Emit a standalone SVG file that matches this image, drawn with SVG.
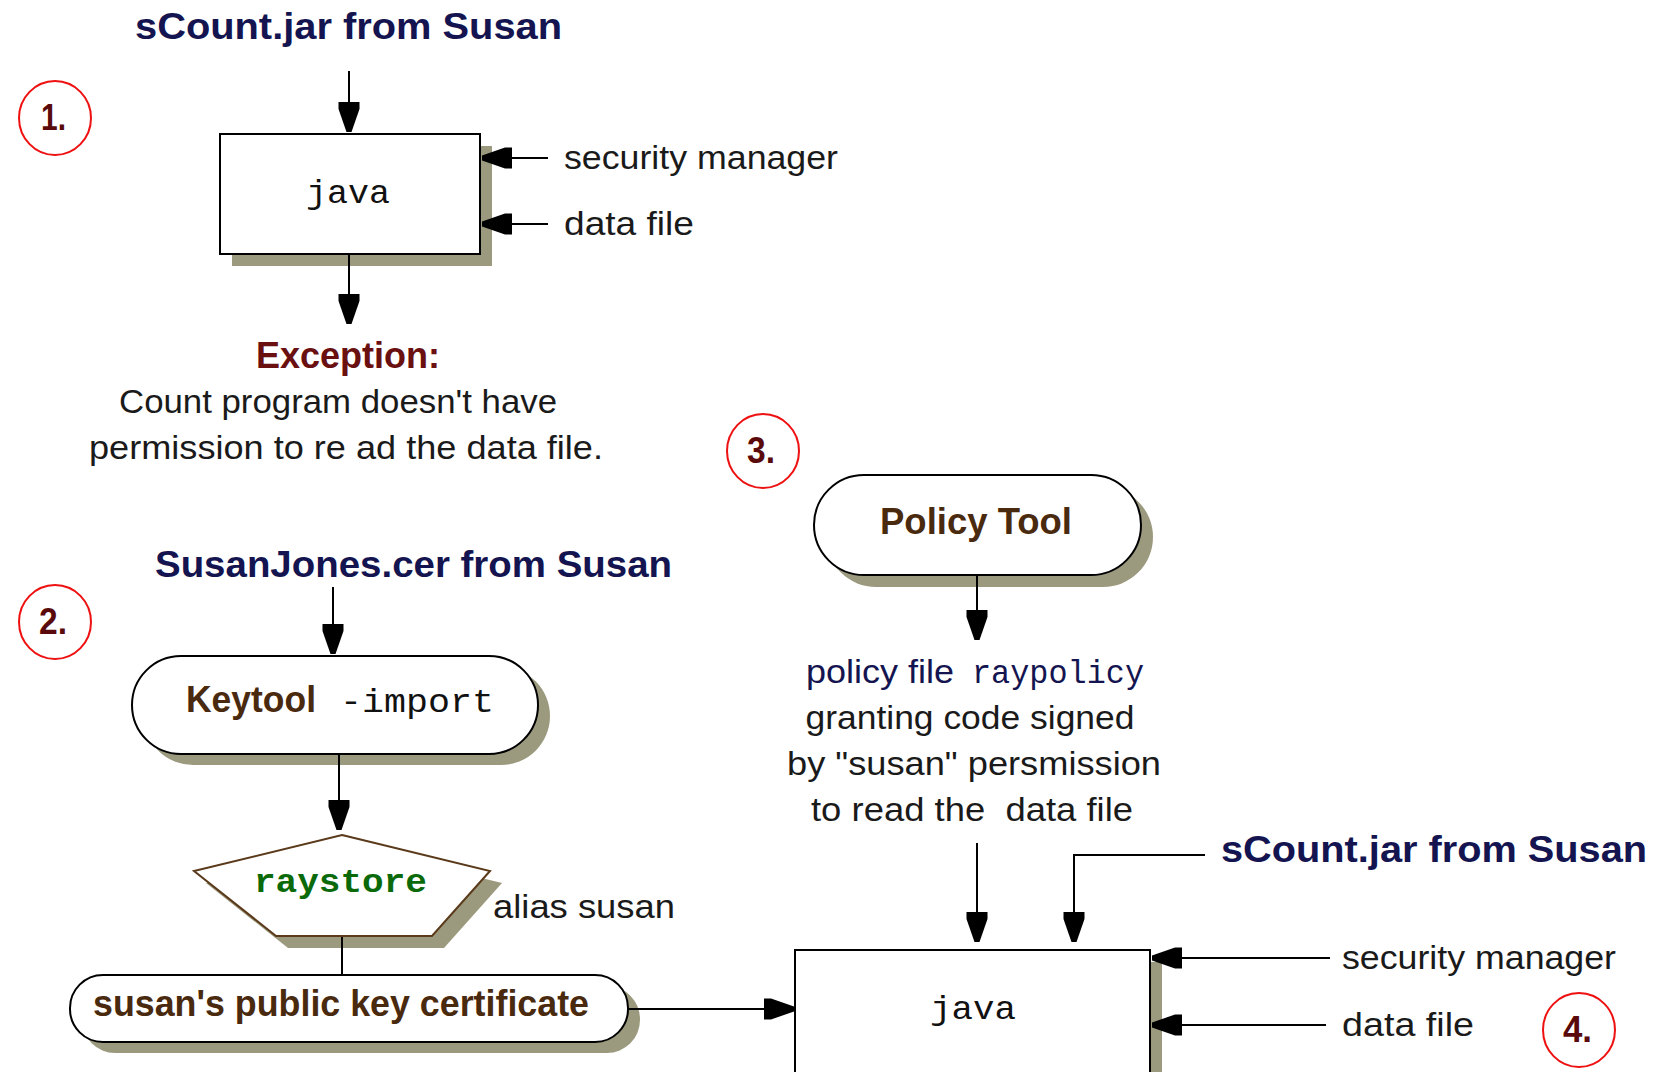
<svg xmlns="http://www.w3.org/2000/svg" width="1653" height="1072" viewBox="0 0 1653 1072">
  <style>
    .bg { fill: #ffffff; }
    .shadow { fill: #9c9a7e; stroke: none; }
    .box { fill: #ffffff; stroke: #000000; stroke-width: 2; }
    .pent { fill: #ffffff; stroke: #5a3a1a; stroke-width: 2; }
    .wire { fill: none; stroke: #000000; stroke-width: 2; }
    .step { fill: none; stroke: #ee1111; stroke-width: 2; }
    .num { font-family: "Liberation Sans", Arial, sans-serif; font-weight: bold; font-size: 36px; fill: #5a0a0a; }
    .title { font-family: "Liberation Sans", Arial, sans-serif; font-weight: bold; font-size: 36px; fill: #141450; }
    .mono { font-family: "Liberation Mono", "DejaVu Sans Mono", monospace; font-size: 34px; fill: #111111; }
    .body { font-family: "Liberation Sans", Arial, sans-serif; font-size: 33px; fill: #1a1a1a; }
    .exc { font-family: "Liberation Sans", Arial, sans-serif; font-weight: bold; font-size: 36px; fill: #6a1010; text-anchor: middle; }
    .tool { font-family: "Liberation Sans", Arial, sans-serif; font-weight: bold; font-size: 36px; fill: #4a2a0e; }
    .store { font-family: "Liberation Mono", "DejaVu Sans Mono", monospace; font-weight: bold; font-size: 34px; fill: #0a6a0a; }
    .navy { fill: #141450; }
  </style>
  <defs>
    <marker id="head" viewBox="0 -11 30 22" refX="30" refY="0" markerWidth="30" markerHeight="22" markerUnits="userSpaceOnUse" orient="auto">
      <path d="M0,-10.5 L7,-10.5 L30,-2.5 L30,2.5 L7,10.5 L0,10.5 Z" fill="#000000"/>
    </marker>
  </defs>

  <rect class="bg" x="0" y="0" width="1653" height="1072"/>

  <!-- step markers -->
  <g id="step-1">
    <ellipse class="step" cx="55" cy="118" rx="36" ry="37"/>
    <text class="num" x="41" y="130" textLength="25" lengthAdjust="spacingAndGlyphs">1.</text>
  </g>
  <g id="step-2">
    <ellipse class="step" cx="55" cy="622" rx="36" ry="37"/>
    <text class="num" x="39" y="634" textLength="28" lengthAdjust="spacingAndGlyphs">2.</text>
  </g>
  <g id="step-3">
    <ellipse class="step" cx="763" cy="451" rx="36" ry="37"/>
    <text class="num" x="747" y="463" textLength="28" lengthAdjust="spacingAndGlyphs">3.</text>
  </g>
  <g id="step-4">
    <ellipse class="step" cx="1579" cy="1030" rx="36" ry="37"/>
    <text class="num" x="1563" y="1042" textLength="29" lengthAdjust="spacingAndGlyphs">4.</text>
  </g>

  <!-- step 1 -->
  <g id="jar-1">
    <text class="title" x="135" y="39" textLength="427" lengthAdjust="spacingAndGlyphs">sCount.jar from Susan</text>
  </g>
  <g id="java-1">
    <rect class="shadow" x="232" y="146" width="260" height="120"/>
    <rect class="box" x="220" y="134" width="260" height="120"/>
    <text class="mono" x="306" y="203" textLength="84" lengthAdjust="spacingAndGlyphs">java</text>
  </g>
  <g id="secmgr-1">
    <text class="body" x="564" y="169" textLength="274" lengthAdjust="spacingAndGlyphs">security manager</text>
  </g>
  <g id="datafile-1">
    <text class="body" x="564" y="235" textLength="130" lengthAdjust="spacingAndGlyphs">data file</text>
  </g>
  <g id="exception">
    <text class="exc" x="348" y="368" textLength="184" lengthAdjust="spacingAndGlyphs">Exception:</text>
    <text class="body" x="119" y="413" textLength="438" lengthAdjust="spacingAndGlyphs">Count program doesn't have</text>
    <text class="body" x="89" y="459" textLength="514" lengthAdjust="spacingAndGlyphs">permission to re ad the data file.</text>
  </g>

  <!-- step 2 -->
  <g id="cer">
    <text class="title" x="155" y="577" textLength="517" lengthAdjust="spacingAndGlyphs">SusanJones.cer from Susan</text>
  </g>
  <g id="keytool">
    <rect class="shadow" x="144" y="667" width="406" height="98" rx="49"/>
    <rect class="box" x="132" y="656" width="406" height="98" rx="49"/>
    <text class="tool" x="186" y="712" textLength="130" lengthAdjust="spacingAndGlyphs">Keytool</text>
    <text class="mono" x="340" y="712" textLength="154" lengthAdjust="spacingAndGlyphs">-import</text>
  </g>
  <g id="raystore">
    <polygon class="shadow" points="354,847 502,883 444,948 288,948 206,883"/>
    <polygon class="pent" points="342,835 490,871 432,936 276,936 194,871"/>
    <text class="store" x="254" y="892" textLength="173" lengthAdjust="spacingAndGlyphs">raystore</text>
  </g>
  <g id="alias">
    <text class="body" x="493" y="918" textLength="182" lengthAdjust="spacingAndGlyphs">alias susan</text>
  </g>
  <g id="certificate">
    <rect class="shadow" x="82" y="986" width="558" height="67" rx="33"/>
    <rect class="box" x="70" y="975" width="558" height="67" rx="33"/>
    <text class="tool" x="93" y="1016" textLength="496" lengthAdjust="spacingAndGlyphs">susan's public key certificate</text>
  </g>

  <!-- step 3 -->
  <g id="policytool">
    <rect class="shadow" x="826" y="487" width="327" height="100" rx="50"/>
    <rect class="box" x="814" y="475" width="327" height="100" rx="50"/>
    <text class="tool" x="976" y="534" text-anchor="middle" textLength="192" lengthAdjust="spacingAndGlyphs">Policy Tool</text>
  </g>
  <g id="policyfile">
    <text class="body navy" x="806" y="683" textLength="148" lengthAdjust="spacingAndGlyphs">policy file</text>
    <text class="mono navy" x="972" y="683" textLength="172" lengthAdjust="spacingAndGlyphs">raypolicy</text>
    <text class="body" x="970" y="729" text-anchor="middle" textLength="329" lengthAdjust="spacingAndGlyphs">granting code signed</text>
    <text class="body" x="974" y="775" text-anchor="middle" textLength="374" lengthAdjust="spacingAndGlyphs">by "susan" persmission</text>
    <text class="body" x="972" y="821" text-anchor="middle" xml:space="preserve" textLength="322" lengthAdjust="spacingAndGlyphs">to read the  data file</text>
  </g>

  <!-- step 4 -->
  <g id="jar-2">
    <text class="title" x="1221" y="862" textLength="426" lengthAdjust="spacingAndGlyphs">sCount.jar from Susan</text>
  </g>
  <g id="java-2">
    <rect class="shadow" x="807" y="962" width="355" height="124"/>
    <rect class="box" x="795" y="950" width="355" height="124"/>
    <text class="mono" x="930" y="1019" textLength="86" lengthAdjust="spacingAndGlyphs">java</text>
  </g>
  <g id="secmgr-2">
    <text class="body" x="1342" y="969" textLength="274" lengthAdjust="spacingAndGlyphs">security manager</text>
  </g>
  <g id="datafile-2">
    <text class="body" x="1342" y="1036" textLength="132" lengthAdjust="spacingAndGlyphs">data file</text>
  </g>

  <!-- connectors -->
  <g id="connectors">
    <line class="wire" x1="349" y1="71" x2="349" y2="132" marker-end="url(#head)"/>
    <line class="wire" x1="548" y1="158" x2="482" y2="158" marker-end="url(#head)"/>
    <line class="wire" x1="548" y1="224" x2="482" y2="224" marker-end="url(#head)"/>
    <line class="wire" x1="349" y1="255" x2="349" y2="324" marker-end="url(#head)"/>
    <line class="wire" x1="333" y1="587" x2="333" y2="654" marker-end="url(#head)"/>
    <line class="wire" x1="339" y1="755" x2="339" y2="830" marker-end="url(#head)"/>
    <line class="wire" x1="342" y1="937" x2="342" y2="975"/>
    <line class="wire" x1="629" y1="1009" x2="794" y2="1009" marker-end="url(#head)"/>
    <line class="wire" x1="977" y1="576" x2="977" y2="640" marker-end="url(#head)"/>
    <line class="wire" x1="977" y1="843" x2="977" y2="942" marker-end="url(#head)"/>
    <polyline class="wire" points="1205,855 1074,855 1074,942" marker-end="url(#head)"/>
    <line class="wire" x1="1330" y1="958" x2="1152" y2="958" marker-end="url(#head)"/>
    <line class="wire" x1="1326" y1="1025" x2="1152" y2="1025" marker-end="url(#head)"/>
  </g>
</svg>
